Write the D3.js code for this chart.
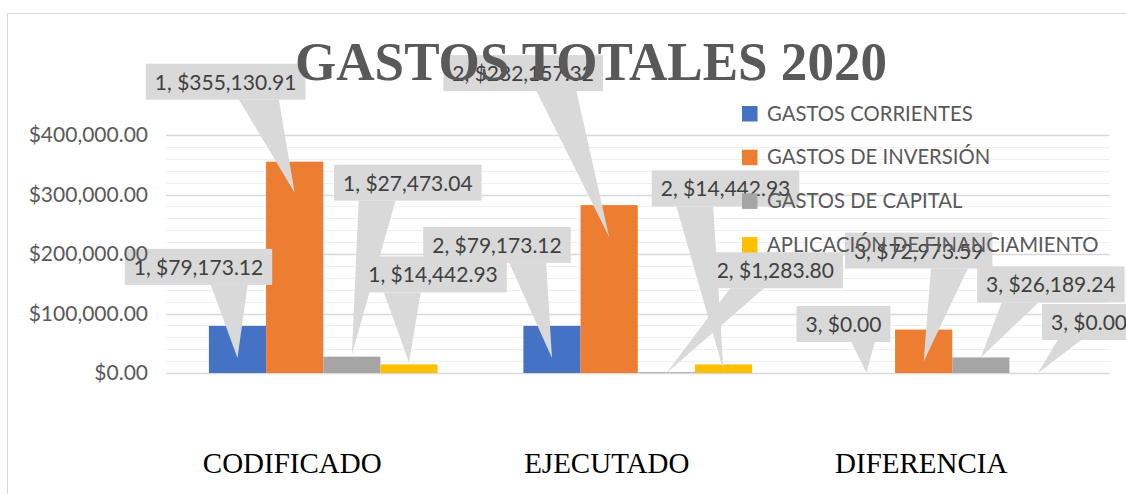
<!DOCTYPE html>
<html lang="es">
<head>
<meta charset="utf-8">
<title>Gastos totales 2020</title>
<script src="https://cdn.jsdelivr.net/npm/d3@7"></script>
<style>
  body { margin: 0; background: #fff; }
  svg text { font-family: Lato, "Open Sans", sans-serif; }
</style>
</head>
<body>
<svg id="chart" width="1126" height="494"></svg>
<script>
// datos
var categorias = ["CODIFICADO", "EJECUTADO", "DIFERENCIA"];
var series = ["GASTOS CORRIENTES", "GASTOS DE INVERSIÓN", "GASTOS DE CAPITAL", "APLICACIÓN DE FINANCIAMIENTO"];
var corrientes = [79173.12, 79173.12, 0];
var inversion = [355130.91, 282157.32, 72973.59];
var capital = [27473.04, 1283.80, 26189.24];
var aplicacion = [14442.93, 14442.93, 0];
var yTicks = [0, 100000, 200000, 300000, 400000];
var colores = ["#4472c4", "#ed7d31", "#a5a5a5", "#ffc000"];

// callout layout, per serie / categoria: [box dx, box dy, tip dy] from the bar top
var callouts = [
  [[-39, -59, 32], [-55, -81, 32], [-23, -49, 0]],
  [[-69, -80, 31], [-86, -132, 32], [-5, -79, 32]],
  [[56, -174, -2], [109, -102, 1], [70, -73, 0]],
  [[24, -90, -2], [2, -176, 6], [51, -51, 0]]
];

var valores = [corrientes, inversion, capital, aplicacion];
var fmt = d3.format(",.2f");

var svg = d3.select("#chart");
var plotLeft = 166, plotRight = 1109.5, plotTop = 135, plotBottom = 373;

var x0 = d3.scaleBand().domain(categorias).range([plotLeft, plotRight]).padding(0);
var x1 = d3.scaleBand().domain(series).range([0, x0.bandwidth()]).paddingInner(0).paddingOuter(0.75);
var y = d3.scaleLinear().domain([0, 400000]).range([plotBottom, plotTop]);

// marco
svg.append("rect")
    .attr("x", 7.5).attr("y", 13.5)
    .attr("width", 1300).attr("height", 700)
    .attr("fill", "none").attr("stroke", "#d9d9d9");

// rejilla
svg.append("g").selectAll("line")
    .data(d3.range(0, 400001, 20000))
    .enter().append("line")
    .attr("x1", plotLeft).attr("x2", plotRight)
    .attr("y1", function(d) { return Math.round(y(d)) + 0.5; })
    .attr("y2", function(d) { return Math.round(y(d)) + 0.5; })
    .attr("stroke", function(d) { return d % 100000 === 0 ? "#d9d9d9" : "#efefef"; })
    .attr("stroke-width", function(d) { return d % 100000 === 0 ? 1.3 : 1; });

// barras
var barras = [];
series.forEach(function(s, si) {
    categorias.forEach(function(c, ci) {
        barras.push({ serie: s, si: si, cat: c, ci: ci, v: valores[si][ci] });
    });
});

svg.append("g").selectAll("rect")
    .data(barras)
    .enter().append("rect")
    .attr("x", function(d) { return x0(d.cat) + x1(d.serie); })
    .attr("y", function(d) { return y(d.v); })
    .attr("width", x1.bandwidth())
    .attr("height", function(d) { return y(0) - y(d.v); })
    .attr("fill", function(d) { return colores[d.si]; });

// etiquetas tipo globo
var gLab = svg.append("g");
barras.forEach(function(d) {
    var off = callouts[d.si][d.ci];
    var cx = x0(d.cat) + x1(d.serie) + x1.bandwidth() / 2;
    var ty = y(d.v);
    var g = gLab.append("g");
    var txt = g.append("text")
        .text((d.ci + 1) + ", $" + fmt(d.v))
        .attr("font-size", 21)
        .attr("fill", "#404040");
    var w = txt.node().getComputedTextLength() + 18, h = 36;
    var bx = cx + off[0] - w / 2, by = ty + off[1] - h / 2;
    var tipX = cx, tipY = ty + off[2];
    // wedge like the office wedgeRectCallout
    var dxPos = tipX - (bx + w / 2), dyPos = tipY - (by + h / 2);
    var pts;
    if (Math.abs(dxPos * h) > Math.abs(dyPos * w)) {
        var ex = dxPos > 0 ? bx + w : bx;
        var a = by + h * (dyPos > 0 ? 7 : 2) / 12, b = by + h * (dyPos > 0 ? 10 : 5) / 12;
        pts = [[ex, a], [tipX, tipY], [ex, b]];
    } else {
        var ey = dyPos > 0 ? by + h : by;
        var p = bx + w * (dxPos > 0 ? 7 : 2) / 12, q = bx + w * (dxPos > 0 ? 10 : 5) / 12;
        pts = [[p, ey], [tipX, tipY], [q, ey]];
    }
    g.insert("polygon", "text").attr("points", pts.join(" ")).attr("fill", "#d9d9d9");
    g.insert("rect", "text")
        .attr("x", bx).attr("y", by).attr("width", w).attr("height", h)
        .attr("fill", "#d9d9d9");
    txt.attr("x", bx + 9).attr("y", by + 26);
});

// eje y
var yAxis = svg.append("g")
    .attr("transform", "translate(" + plotLeft + ",0)")
    .call(d3.axisLeft(y).tickValues(yTicks).tickSize(0).tickPadding(18)
        .tickFormat(function(d) { return "$" + fmt(d); }));
yAxis.select(".domain").remove();
yAxis.selectAll("text")
    .attr("font-family", "Lato, 'Open Sans', sans-serif")
    .attr("font-size", 21).attr("fill", "#595959");

// leyenda
var leg = svg.append("g").selectAll("g")
    .data(series)
    .enter().append("g")
    .attr("transform", function(d, i) { return "translate(742," + (113.5 + i * 43.7) + ")"; });
leg.append("rect").attr("x", 0).attr("y", -7.5).attr("width", 15.5).attr("height", 15.5)
    .attr("fill", function(d, i) { return colores[i]; });
leg.append("text").attr("x", 25).attr("y", 7.2)
    .attr("font-size", 20.3).attr("fill", "#595959")
    .text(function(d) { return d; });

// titulo
svg.append("text")
    .attr("x", 591).attr("y", 80)
    .attr("text-anchor", "middle")
    .attr("textLength", 592).attr("lengthAdjust", "spacingAndGlyphs")
    .style("font-family", "'Liberation Serif', 'Times New Roman', serif")
    .attr("font-weight", "bold").attr("font-size", 55)
    .attr("fill", "#595959")
    .text("GASTOS TOTALES 2020");

// categorias
var xAxis = svg.append("g")
    .attr("transform", "translate(0,473)")
    .call(d3.axisBottom(x0).tickSize(0).tickPadding(0));
xAxis.select(".domain").remove();
xAxis.selectAll("text")
    .attr("y", 0).attr("dy", 0).attr("dx", -31)
    .style("font-family", "'Liberation Serif', 'Times New Roman', serif")
    .attr("font-size", 29).attr("fill", "#000");
</script>
</body>
</html>
